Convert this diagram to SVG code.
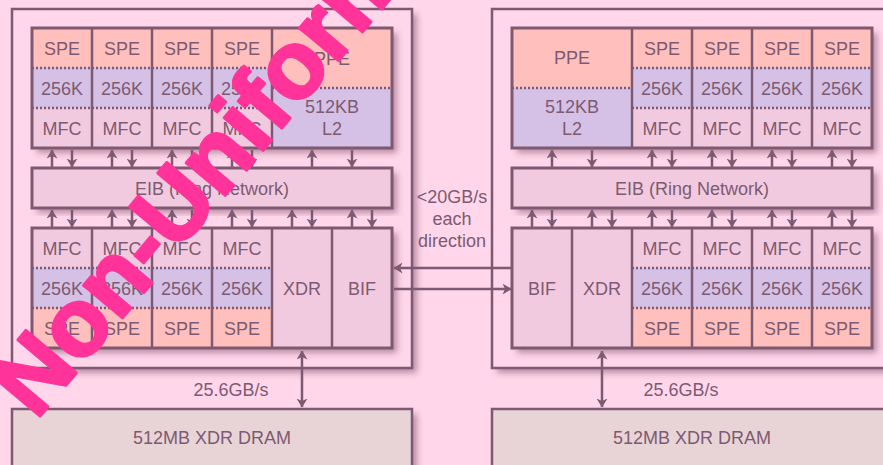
<svg xmlns="http://www.w3.org/2000/svg" width="883" height="465" viewBox="0 0 883 465">
<defs>
<style>
.bg{fill:#ffd6ea}
.sh{filter:url(#sh)}
.ol{fill:none;stroke:#7d5a72;stroke-width:3}
.dv{stroke:#7d5a72;stroke-width:2.5}
.spe{fill:#ffc0bd}
.ls{fill:#d5c1e6}
.mfc{fill:#f2cadf}
.dram{fill:#e8d4d7}
.dot{stroke:#7d5a72;stroke-width:2.5;stroke-dasharray:2 2;fill:none}
.t{font-family:"Liberation Sans",Arial,sans-serif;font-size:18px;fill:#7d5a72;text-anchor:middle}
.td{font-family:"Liberation Sans",Arial,sans-serif;font-size:18px;fill:#7d5a72;text-anchor:middle}
.ar{stroke:#7d5a72;stroke-width:2.5;fill:none;marker-end:url(#ah)}
.ar2{stroke:#7d5a72;stroke-width:2.5;fill:none;marker-end:url(#ah);marker-start:url(#ah)}
.wm{font-family:"Liberation Sans",Arial,sans-serif;font-weight:bold;font-size:96px;fill:#ff3399;stroke:#ff3399;stroke-width:3;stroke-linejoin:round}
</style>
<filter id="sh" x="-10%" y="-10%" width="130%" height="130%">
<feDropShadow dx="5" dy="5" stdDeviation="3" flood-color="#6a3050" flood-opacity="0.45"/>
</filter>
<marker id="ah" markerUnits="userSpaceOnUse" viewBox="0 0 9 11" markerWidth="9" markerHeight="11" refX="8.5" refY="5.5" orient="auto-start-reverse">
<path d="M0,0 L9,5.5 L0,11 L2.5,5.5 z" fill="#7d5a72"/>
</marker>
</defs>
<rect x="0" y="0" width="883" height="465" class="bg"/>

<!-- chip boxes -->
<g id="chip1"><rect x="12" y="9" width="400" height="359" class="bg sh"/><rect x="12" y="9" width="400" height="359" fill="none" stroke="#7d5a72" stroke-width="2.5"/></g>
<g id="chip2"><rect x="492" y="9" width="400" height="359" class="bg sh"/><rect x="492" y="9" width="400" height="359" fill="none" stroke="#7d5a72" stroke-width="2.5"/></g>

<!-- DRAM -->
<g id="dram1"><rect x="12" y="409" width="400" height="70" class="dram sh"/><rect x="12" y="409" width="400" height="70" fill="none" stroke="#7d5a72" stroke-width="2.5"/><text x="212" y="444" class="td">512MB XDR DRAM</text></g>
<g id="dram2"><rect x="492" y="409" width="400" height="70" class="dram sh"/><rect x="492" y="409" width="400" height="70" fill="none" stroke="#7d5a72" stroke-width="2.5"/><text x="692" y="444" class="td">512MB XDR DRAM</text></g>

<!-- shadows of blocks -->
<rect x="32" y="28" width="360" height="120" class="mfc sh"/>
<rect x="32" y="168" width="360" height="40" class="mfc sh"/>
<rect x="32" y="228" width="360" height="120" class="mfc sh"/>
<rect x="512" y="28" width="360" height="120" class="mfc sh"/>
<rect x="512" y="168" width="360" height="40" class="mfc sh"/>
<rect x="512" y="228" width="360" height="120" class="mfc sh"/>

<!-- left chip top -->
<g id="c1-spe1"><rect x="32" y="28" width="60" height="40" class="spe"/><rect x="32" y="68" width="60" height="40" class="ls"/><rect x="32" y="108" width="60" height="40" class="mfc"/><line x1="32" y1="68" x2="92" y2="68" class="dot"/><line x1="32" y1="108" x2="92" y2="108" class="dot"/><text x="62" y="55" class="t">SPE</text><text x="62" y="95" class="t">256K</text><text x="62" y="135" class="t">MFC</text></g>
<g id="c1-spe2"><rect x="92" y="28" width="60" height="40" class="spe"/><rect x="92" y="68" width="60" height="40" class="ls"/><rect x="92" y="108" width="60" height="40" class="mfc"/><line x1="92" y1="68" x2="152" y2="68" class="dot"/><line x1="92" y1="108" x2="152" y2="108" class="dot"/><text x="122" y="55" class="t">SPE</text><text x="122" y="95" class="t">256K</text><text x="122" y="135" class="t">MFC</text></g>
<g id="c1-spe3"><rect x="152" y="28" width="60" height="40" class="spe"/><rect x="152" y="68" width="60" height="40" class="ls"/><rect x="152" y="108" width="60" height="40" class="mfc"/><line x1="152" y1="68" x2="212" y2="68" class="dot"/><line x1="152" y1="108" x2="212" y2="108" class="dot"/><text x="182" y="55" class="t">SPE</text><text x="182" y="95" class="t">256K</text><text x="182" y="135" class="t">MFC</text></g>
<g id="c1-spe4"><rect x="212" y="28" width="60" height="40" class="spe"/><rect x="212" y="68" width="60" height="40" class="ls"/><rect x="212" y="108" width="60" height="40" class="mfc"/><line x1="212" y1="68" x2="272" y2="68" class="dot"/><line x1="212" y1="108" x2="272" y2="108" class="dot"/><text x="242" y="55" class="t">SPE</text><text x="242" y="95" class="t">256K</text><text x="242" y="135" class="t">MFC</text></g>
<g id="c1-ppe"><rect x="272" y="28" width="120" height="60" class="spe"/><rect x="272" y="88" width="120" height="60" class="ls"/><line x1="272" y1="88" x2="392" y2="88" class="dot"/><text x="332" y="65" class="t">PPE</text><text x="332" y="113" class="t">512KB</text><text x="332" y="135" class="t">L2</text></g>
<g class="dv"><line x1="92" y1="28" x2="92" y2="148"/><line x1="152" y1="28" x2="152" y2="148"/><line x1="212" y1="28" x2="212" y2="148"/><line x1="272" y1="28" x2="272" y2="148"/></g>
<rect x="32" y="28" width="360" height="120" class="ol"/>

<g id="c1-eib"><rect x="32" y="168" width="360" height="40" class="mfc"/><rect x="32" y="168" width="360" height="40" class="ol"/><text x="212" y="195" class="t">EIB (Ring Network)</text></g>

<!-- left chip bottom -->
<g id="c1-spe5"><rect x="32" y="228" width="60" height="40" class="mfc"/><rect x="32" y="268" width="60" height="40" class="ls"/><rect x="32" y="308" width="60" height="40" class="spe"/><line x1="32" y1="268" x2="92" y2="268" class="dot"/><line x1="32" y1="308" x2="92" y2="308" class="dot"/><text x="62" y="255" class="t">MFC</text><text x="62" y="295" class="t">256K</text><text x="62" y="335" class="t">SPE</text></g>
<g id="c1-spe6"><rect x="92" y="228" width="60" height="40" class="mfc"/><rect x="92" y="268" width="60" height="40" class="ls"/><rect x="92" y="308" width="60" height="40" class="spe"/><line x1="92" y1="268" x2="152" y2="268" class="dot"/><line x1="92" y1="308" x2="152" y2="308" class="dot"/><text x="122" y="255" class="t">MFC</text><text x="122" y="295" class="t">256K</text><text x="122" y="335" class="t">SPE</text></g>
<g id="c1-spe7"><rect x="152" y="228" width="60" height="40" class="mfc"/><rect x="152" y="268" width="60" height="40" class="ls"/><rect x="152" y="308" width="60" height="40" class="spe"/><line x1="152" y1="268" x2="212" y2="268" class="dot"/><line x1="152" y1="308" x2="212" y2="308" class="dot"/><text x="182" y="255" class="t">MFC</text><text x="182" y="295" class="t">256K</text><text x="182" y="335" class="t">SPE</text></g>
<g id="c1-spe8"><rect x="212" y="228" width="60" height="40" class="mfc"/><rect x="212" y="268" width="60" height="40" class="ls"/><rect x="212" y="308" width="60" height="40" class="spe"/><line x1="212" y1="268" x2="272" y2="268" class="dot"/><line x1="212" y1="308" x2="272" y2="308" class="dot"/><text x="242" y="255" class="t">MFC</text><text x="242" y="295" class="t">256K</text><text x="242" y="335" class="t">SPE</text></g>
<g id="c1-xdr"><rect x="272" y="228" width="60" height="120" class="mfc"/><text x="302" y="295" class="t">XDR</text></g>
<g id="c1-bif"><rect x="332" y="228" width="60" height="120" class="mfc"/><text x="362" y="295" class="t">BIF</text></g>
<g class="dv"><line x1="92" y1="228" x2="92" y2="348"/><line x1="152" y1="228" x2="152" y2="348"/><line x1="212" y1="228" x2="212" y2="348"/><line x1="272" y1="228" x2="272" y2="348"/><line x1="332" y1="228" x2="332" y2="348"/></g>
<rect x="32" y="228" width="360" height="120" class="ol"/>

<!-- right chip top -->
<g id="c2-ppe"><rect x="512" y="28" width="120" height="60" class="spe"/><rect x="512" y="88" width="120" height="60" class="ls"/><line x1="512" y1="88" x2="632" y2="88" class="dot"/><text x="572" y="64" class="t">PPE</text><text x="572" y="113" class="t">512KB</text><text x="572" y="135" class="t">L2</text></g>
<g id="c2-spe1"><rect x="632" y="28" width="60" height="40" class="spe"/><rect x="632" y="68" width="60" height="40" class="ls"/><rect x="632" y="108" width="60" height="40" class="mfc"/><line x1="632" y1="68" x2="692" y2="68" class="dot"/><line x1="632" y1="108" x2="692" y2="108" class="dot"/><text x="662" y="55" class="t">SPE</text><text x="662" y="95" class="t">256K</text><text x="662" y="135" class="t">MFC</text></g>
<g id="c2-spe2"><rect x="692" y="28" width="60" height="40" class="spe"/><rect x="692" y="68" width="60" height="40" class="ls"/><rect x="692" y="108" width="60" height="40" class="mfc"/><line x1="692" y1="68" x2="752" y2="68" class="dot"/><line x1="692" y1="108" x2="752" y2="108" class="dot"/><text x="722" y="55" class="t">SPE</text><text x="722" y="95" class="t">256K</text><text x="722" y="135" class="t">MFC</text></g>
<g id="c2-spe3"><rect x="752" y="28" width="60" height="40" class="spe"/><rect x="752" y="68" width="60" height="40" class="ls"/><rect x="752" y="108" width="60" height="40" class="mfc"/><line x1="752" y1="68" x2="812" y2="68" class="dot"/><line x1="752" y1="108" x2="812" y2="108" class="dot"/><text x="782" y="55" class="t">SPE</text><text x="782" y="95" class="t">256K</text><text x="782" y="135" class="t">MFC</text></g>
<g id="c2-spe4"><rect x="812" y="28" width="60" height="40" class="spe"/><rect x="812" y="68" width="60" height="40" class="ls"/><rect x="812" y="108" width="60" height="40" class="mfc"/><line x1="812" y1="68" x2="872" y2="68" class="dot"/><line x1="812" y1="108" x2="872" y2="108" class="dot"/><text x="842" y="55" class="t">SPE</text><text x="842" y="95" class="t">256K</text><text x="842" y="135" class="t">MFC</text></g>
<g class="dv"><line x1="632" y1="28" x2="632" y2="148"/><line x1="692" y1="28" x2="692" y2="148"/><line x1="752" y1="28" x2="752" y2="148"/><line x1="812" y1="28" x2="812" y2="148"/></g>
<rect x="512" y="28" width="360" height="120" class="ol"/>

<g id="c2-eib"><rect x="512" y="168" width="360" height="40" class="mfc"/><rect x="512" y="168" width="360" height="40" class="ol"/><text x="692" y="195" class="t">EIB (Ring Network)</text></g>

<!-- right chip bottom -->
<g id="c2-bif"><rect x="512" y="228" width="60" height="120" class="mfc"/><text x="542" y="295" class="t">BIF</text></g>
<g id="c2-xdr"><rect x="572" y="228" width="60" height="120" class="mfc"/><text x="602" y="295" class="t">XDR</text></g>
<g id="c2-spe5"><rect x="632" y="228" width="60" height="40" class="mfc"/><rect x="632" y="268" width="60" height="40" class="ls"/><rect x="632" y="308" width="60" height="40" class="spe"/><line x1="632" y1="268" x2="692" y2="268" class="dot"/><line x1="632" y1="308" x2="692" y2="308" class="dot"/><text x="662" y="255" class="t">MFC</text><text x="662" y="295" class="t">256K</text><text x="662" y="335" class="t">SPE</text></g>
<g id="c2-spe6"><rect x="692" y="228" width="60" height="40" class="mfc"/><rect x="692" y="268" width="60" height="40" class="ls"/><rect x="692" y="308" width="60" height="40" class="spe"/><line x1="692" y1="268" x2="752" y2="268" class="dot"/><line x1="692" y1="308" x2="752" y2="308" class="dot"/><text x="722" y="255" class="t">MFC</text><text x="722" y="295" class="t">256K</text><text x="722" y="335" class="t">SPE</text></g>
<g id="c2-spe7"><rect x="752" y="228" width="60" height="40" class="mfc"/><rect x="752" y="268" width="60" height="40" class="ls"/><rect x="752" y="308" width="60" height="40" class="spe"/><line x1="752" y1="268" x2="812" y2="268" class="dot"/><line x1="752" y1="308" x2="812" y2="308" class="dot"/><text x="782" y="255" class="t">MFC</text><text x="782" y="295" class="t">256K</text><text x="782" y="335" class="t">SPE</text></g>
<g id="c2-spe8"><rect x="812" y="228" width="60" height="40" class="mfc"/><rect x="812" y="268" width="60" height="40" class="ls"/><rect x="812" y="308" width="60" height="40" class="spe"/><line x1="812" y1="268" x2="872" y2="268" class="dot"/><line x1="812" y1="308" x2="872" y2="308" class="dot"/><text x="842" y="255" class="t">MFC</text><text x="842" y="295" class="t">256K</text><text x="842" y="335" class="t">SPE</text></g>
<g class="dv"><line x1="572" y1="228" x2="572" y2="348"/><line x1="632" y1="228" x2="632" y2="348"/><line x1="692" y1="228" x2="692" y2="348"/><line x1="752" y1="228" x2="752" y2="348"/><line x1="812" y1="228" x2="812" y2="348"/></g>
<rect x="512" y="228" width="360" height="120" class="ol"/>

<!-- connectors -->
<g id="connectors">
<line x1="52" y1="167" x2="52" y2="150" class="ar"/><line x1="72" y1="150" x2="72" y2="167" class="ar"/>
<line x1="112" y1="167" x2="112" y2="150" class="ar"/><line x1="132" y1="150" x2="132" y2="167" class="ar"/>
<line x1="172" y1="167" x2="172" y2="150" class="ar"/><line x1="192" y1="150" x2="192" y2="167" class="ar"/>
<line x1="232" y1="167" x2="232" y2="150" class="ar"/><line x1="252" y1="150" x2="252" y2="167" class="ar"/>
<line x1="312" y1="167" x2="312" y2="150" class="ar"/><line x1="352" y1="150" x2="352" y2="167" class="ar"/>

<line x1="52" y1="227" x2="52" y2="210" class="ar"/><line x1="72" y1="210" x2="72" y2="227" class="ar"/>
<line x1="112" y1="227" x2="112" y2="210" class="ar"/><line x1="132" y1="210" x2="132" y2="227" class="ar"/>
<line x1="172" y1="227" x2="172" y2="210" class="ar"/><line x1="192" y1="210" x2="192" y2="227" class="ar"/>
<line x1="232" y1="227" x2="232" y2="210" class="ar"/><line x1="252" y1="210" x2="252" y2="227" class="ar"/>
<line x1="292" y1="227" x2="292" y2="210" class="ar"/><line x1="312" y1="210" x2="312" y2="227" class="ar"/>
<line x1="352" y1="227" x2="352" y2="210" class="ar"/><line x1="372" y1="210" x2="372" y2="227" class="ar"/>

<line x1="552" y1="167" x2="552" y2="150" class="ar"/><line x1="592" y1="150" x2="592" y2="167" class="ar"/>
<line x1="652" y1="167" x2="652" y2="150" class="ar"/><line x1="672" y1="150" x2="672" y2="167" class="ar"/>
<line x1="712" y1="167" x2="712" y2="150" class="ar"/><line x1="732" y1="150" x2="732" y2="167" class="ar"/>
<line x1="772" y1="167" x2="772" y2="150" class="ar"/><line x1="792" y1="150" x2="792" y2="167" class="ar"/>
<line x1="832" y1="167" x2="832" y2="150" class="ar"/><line x1="852" y1="150" x2="852" y2="167" class="ar"/>

<line x1="532" y1="227" x2="532" y2="210" class="ar"/><line x1="552" y1="210" x2="552" y2="227" class="ar"/>
<line x1="592" y1="227" x2="592" y2="210" class="ar"/><line x1="612" y1="210" x2="612" y2="227" class="ar"/>
<line x1="652" y1="227" x2="652" y2="210" class="ar"/><line x1="672" y1="210" x2="672" y2="227" class="ar"/>
<line x1="712" y1="227" x2="712" y2="210" class="ar"/><line x1="732" y1="210" x2="732" y2="227" class="ar"/>
<line x1="772" y1="227" x2="772" y2="210" class="ar"/><line x1="792" y1="210" x2="792" y2="227" class="ar"/>
<line x1="832" y1="227" x2="832" y2="210" class="ar"/><line x1="852" y1="210" x2="852" y2="227" class="ar"/>

<line x1="511" y1="268" x2="394" y2="268" class="ar"/>
<line x1="394" y1="289" x2="511" y2="289" class="ar"/>
<line x1="302" y1="351" x2="302" y2="407" class="ar2"/>
<line x1="602" y1="351" x2="602" y2="407" class="ar2"/>
</g>

<g id="labels">
<text x="452" y="203" class="t">&lt;20GB/s</text>
<text x="452" y="225" class="t">each</text>
<text x="452" y="247" class="t">direction</text>
<text x="231" y="396" class="t">25.6GB/s</text>
<text x="681" y="396" class="t">25.6GB/s</text>
</g>

<text class="wm" transform="translate(36,421) rotate(-50)">Non-Uniform</text>
</svg>
